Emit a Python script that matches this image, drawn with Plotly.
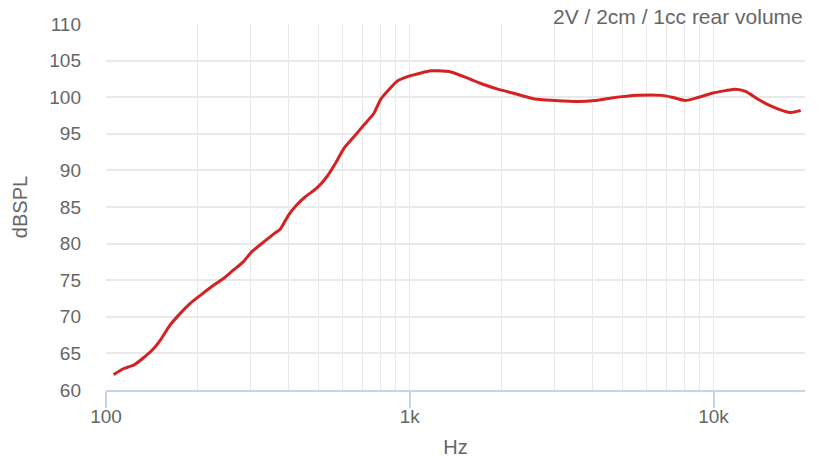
import plotly.graph_objects as go

freq_hz = [106, 114, 124, 132, 143, 152, 162, 175, 189, 204, 226, 243, 263, 283, 302,
           330, 356, 375, 399, 425, 453, 495, 535, 570, 607, 655, 706, 762, 802, 844,
           911, 983, 1088, 1174, 1235, 1366, 1551, 1760, 1949, 2212, 2576, 3000, 3585,
           4068, 4618, 5658, 6757, 7292, 8069, 8937, 9886, 10940, 11810, 12740, 14110,
           15610, 17070, 17950, 19360]
spl_db = [62.1, 62.9, 63.45, 64.3, 65.6, 67.0, 68.8, 70.4, 71.8, 72.9, 74.3, 75.2, 76.4,
          77.5, 78.9, 80.2, 81.3, 82.0, 83.9, 85.3, 86.4, 87.6, 89.2, 91.0, 93.0, 94.6,
          96.2, 97.8, 99.7, 100.8, 102.2, 102.8, 103.3, 103.6, 103.6, 103.45, 102.6,
          101.7, 101.1, 100.5, 99.75, 99.55, 99.4, 99.55, 99.9, 100.25, 100.25, 100.0,
          99.55, 100.0, 100.55, 100.9, 101.1, 100.8, 99.65, 98.7, 98.1, 97.9, 98.2]

x_tickvals = [100, 1000, 10000]
x_ticktext = ["100", "1k", "10k"]
x_minorvals = [m * d for d in (100, 1000, 10000) for m in range(2, 10) if m * d <= 20000]
y_tickvals = [60, 65, 70, 75, 80, 85, 90, 95, 100, 105, 110]

title_text = "2V / 2cm / 1cc rear volume"
x_title = "Hz"
y_title = "dBSPL"

FONT = "Liberation Sans, Arial, sans-serif"
GRID = "#e9e9e9"
AXIS = "#c8d3e6"
TXT = "#666666"

fig = go.Figure()
fig.add_trace(go.Scatter(
    x=freq_hz, y=spl_db, mode="lines",
    line=dict(color="#d42222", width=3, shape="spline", smoothing=0.6),
    hoverinfo="skip", showlegend=False,
))

fig.update_layout(
    width=821, height=460,
    margin=dict(l=106, r=16, t=24, b=70),
    paper_bgcolor="white", plot_bgcolor="white",
    font=dict(family=FONT, color=TXT, size=19),
    xaxis=dict(
        type="log", range=[2, 4.30103], automargin=False,
        tickvals=x_tickvals, ticktext=x_ticktext,
        showgrid=True, gridcolor=GRID, gridwidth=1,
        showline=True, linecolor=AXIS, linewidth=1.5,
        ticks="outside", ticklen=16, tickcolor=AXIS, tickwidth=1.5,
        ticklabelstandoff=-8,
        tickfont=dict(size=19, color=TXT),
        minor=dict(tickvals=x_minorvals, showgrid=True, gridcolor=GRID, gridwidth=1, ticks=""),
        title=dict(text=x_title, font=dict(size=20, color=TXT), standoff=14),
        zeroline=False, mirror=False,
    ),
    yaxis=dict(
        range=[60, 110], tickvals=y_tickvals, automargin=False,
        showgrid=True, gridcolor=GRID, gridwidth=1.5,
        showline=False, ticks="", ticklabelstandoff=24,
        tickfont=dict(size=19, color=TXT),
        title=dict(text=y_title, font=dict(size=20, color=TXT), standoff=16),
        zeroline=False,
    ),
    annotations=[dict(
        text=title_text, xref="paper", yref="paper", x=1, y=1,
        xanchor="right", yanchor="bottom", showarrow=False,
        font=dict(size=21, color=TXT, family=FONT), yshift=-6,
    )],
)

fig.write_html("out.html", config={"displayModeBar": False},
               post_script="document.body.style.margin='0';")
